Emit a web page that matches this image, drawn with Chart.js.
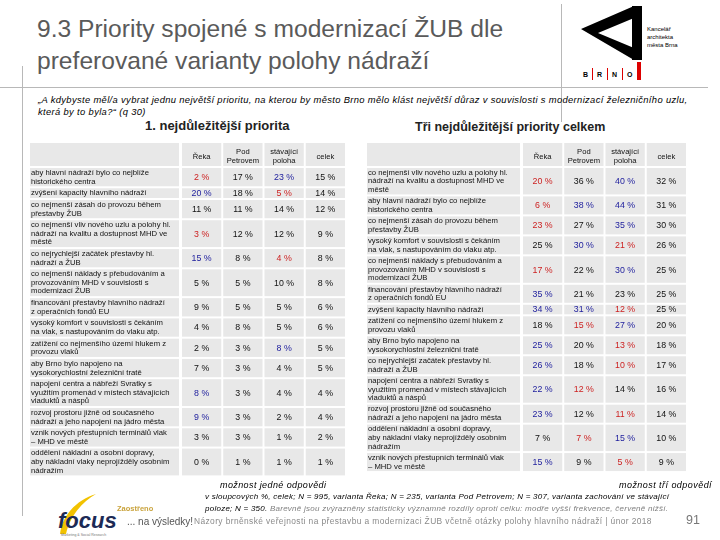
<!DOCTYPE html>
<html lang="cs">
<head>
    <meta charset="UTF-8">
    <title>9.3 Priority spojené s modernizací ŽUB</title>
    <script src="https://cdn.jsdelivr.net/npm/chart.js"></script>
    <style>
        body { margin: 0; background: #fff; font-family: "Liberation Sans", Arial, sans-serif; }
        #page { position: relative; width: 720px; height: 540px; overflow: hidden; }
        .abs { position: absolute; white-space: nowrap; }
        .line { position: absolute; background: #b8b8b8; }
        canvas { position: absolute; }
    </style>
</head>
<body>
<div id="page">
    <div class="line" style="left:0; top:87px; width:708px; height:1px;"></div>
    <div class="line" style="left:22px; top:66px; width:1px; height:450px;"></div>
    <div class="line" style="left:561px; top:4px; width:1px; height:118px;"></div>

    <div class="abs" style="left:37px; top:13px; font-size:24.6px; line-height:32px; color:#5a5a5a;">9.3 Priority spojené s modernizací ŽUB dle<br>preferované varianty polohy nádraží</div>

    <svg class="abs" style="left:576px; top:4px;" width="130" height="80">
        <polygon points="5,25 58,2 58,14 22,29 58,44 58,56" fill="#000"/>
        <rect x="56" y="2" width="10" height="54" fill="#000"/>
        <text x="71" y="27" font-size="6" font-family="Liberation Sans">Kancelář</text>
        <text x="71" y="35" font-size="6" font-family="Liberation Sans">architekta</text>
        <text x="71" y="43" font-size="6" font-family="Liberation Sans">města Brna</text>
        <g font-size="7" font-weight="bold" font-family="Liberation Sans">
            <text x="7" y="73">B</text>
            <rect x="16" y="64" width="1" height="12" fill="#d00"/>
            <text x="21" y="73">R</text>
            <rect x="31" y="64" width="1" height="12" fill="#d00"/>
            <text x="36" y="73">N</text>
            <rect x="46" y="64" width="1" height="12" fill="#d00"/>
            <text x="51" y="73">O</text>
            <rect x="61" y="58" width="4" height="18" fill="#d00"/>
        </g>
    </svg>

    <div class="abs" style="left:38px; top:94px; font-size:9.4px; letter-spacing:0.35px; line-height:12px; font-style:italic;">„A kdybyste měl/a vybrat jednu největší prioritu, na kterou by město Brno mělo klást největší důraz v souvislosti s modernizací železničního uzlu,<br>která by to byla?“ (q 30)</div>

    <div class="abs" style="left:145px; top:118px; font-size:13px; font-weight:bold; color:#222;">1. nejdůležitější priorita</div>
    <div class="abs" style="left:415px; top:120px; font-size:12.5px; font-weight:bold; color:#222;">Tři nejdůležitější priority celkem</div>

    <canvas id="firstTable" width="322" height="345" style="left:27px; top:140px;"></canvas>
    <canvas id="topThreeTable" width="326" height="345" style="left:364px; top:140px;"></canvas>

    <div class="abs" style="left:220px; top:480px; font-size:9px; letter-spacing:0.4px; font-style:italic;">možnost jedné odpovědi</div>
    <div class="abs" style="left:619px; top:480px; font-size:9px; letter-spacing:0.45px; font-style:italic;">možnost tří odpovědí</div>

    <div class="abs" style="left:205px; top:491px; font-size:8px; letter-spacing:0.25px; line-height:12px; font-style:italic;">v sloupcových %, celek; N = 995, varianta Řeka; N = 235, varianta Pod Petrovem; N = 307, varianta zachování ve stávající<br>poloze; N = 350. <span style="color:#808080;">Barevně jsou zvýrazněny statisticky významné rozdíly oproti celku: modře vyšší frekvence, červeně nižší.</span></div>

    <svg class="abs" style="left:52px; top:488px;" width="70" height="52">
        <path d="M8,46 C10,28 24,12 44,6 C30,14 18,28 14,46 Z" fill="#f2c200"/>
        <text x="6" y="40" font-size="22" font-weight="bold" font-style="italic" font-family="Liberation Sans" fill="#1c2a55">focus</text>
        <text x="9" y="48" font-size="3.5" fill="#777" font-family="Liberation Sans">Marketing &amp; Social Research</text>
    </svg>
    <div class="abs" style="left:117px; top:504px; font-size:7.5px; font-weight:bold; color:#c9a33c;">Zaostřeno</div>
    <div class="abs" style="left:127px; top:516px; font-size:10px; color:#555;">... na výsledky!</div>
    <div class="abs" style="left:194px; top:516px; font-size:8.4px; letter-spacing:0.4px; color:#8a8a8a;">Názory brněnské veřejnosti na přestavbu a modernizaci ŽUB včetně otázky polohy hlavního nádraží | únor 2018</div>
    <div class="abs" style="left:686px; top:513px; font-size:12.5px; color:#777;">91</div>
</div>

<script>
    // column headers, shared by both tables
    const columns = ['Řeka', ['Pod', 'Petrovem'], ['stávající', 'poloha'], 'celek'];

    // 1. nejdůležitější priorita
    const firstLabels = [
        ['aby hlavní nádraží bylo co nejblíže', 'historického centra'],
        ['zvýšení kapacity hlavního nádraží'],
        ['co nejmenší zásah do provozu během', 'přestavby ŽUB'],
        ['co nejmenší vliv nového uzlu a polohy hl.', 'nádraží na kvalitu a dostupnost MHD ve', 'městě'],
        ['co nejrychlejší začátek přestavby hl.', 'nádraží a ŽUB'],
        ['co nejmenší náklady s přebudováním a', 'provozováním MHD v souvislosti s', 'modernizací ŽUB'],
        ['financování přestavby hlavního nádraží', 'z operačních fondů EU'],
        ['vysoký komfort v souvislosti s čekáním', 'na vlak, s nastupováním do vlaku atp.'],
        ['zatížení co nejmenšího území hlukem z', 'provozu vlaků'],
        ['aby Brno bylo napojeno na', 'vysokorychlostní železniční tratě'],
        ['napojení centra a nábřeží Svratky s', 'využitím promenád v místech stávajících', 'viaduktů a náspů'],
        ['rozvoj prostoru jižně od současného', 'nádraží a jeho napojení na jádro města'],
        ['vznik nových přestupních terminálů vlak', '– MHD ve městě'],
        ['oddělení nákladní a osobní dopravy,', 'aby nákladní vlaky neprojížděly osobním', 'nádražím']
    ];
    const firstReka  = [2, 20, 11, 3, 15, 5, 9, 4, 2, 7, 8, 9, 3, 0];
    const firstPod   = [17, 18, 11, 12, 8, 5, 5, 8, 3, 3, 3, 3, 3, 1];
    const firstStav  = [23, 5, 14, 12, 4, 10, 5, 5, 8, 4, 4, 2, 1, 1];
    const firstCelek = [15, 14, 12, 9, 8, 8, 6, 6, 5, 5, 4, 4, 2, 1];
    // significance against celek: 1 = higher, -1 = lower, 0 = none
    const firstRekaSig = [-1, 1, 0, -1, 1, 0, 0, 0, 0, 0, 1, 1, 0, 0];
    const firstPodSig  = [0, 0, 0, 0, 0, 0, 0, 0, 0, 0, 0, 0, 0, 0];
    const firstStavSig = [1, -1, 0, 0, -1, 0, 0, 0, 1, 0, 0, 0, 0, 0];

    // Tři nejdůležitější priority celkem
    const topThreeLabels = [
        ['co nejmenší vliv nového uzlu a polohy hl.', 'nádraží na kvalitu a dostupnost MHD ve', 'městě'],
        ['aby hlavní nádraží bylo co nejblíže', 'historického centra'],
        ['co nejmenší zásah do provozu během', 'přestavby ŽUB'],
        ['vysoký komfort v souvislosti s čekáním', 'na vlak, s nastupováním do vlaku atp.'],
        ['co nejmenší náklady s přebudováním a', 'provozováním MHD v souvislosti s', 'modernizací ŽUB'],
        ['financování přestavby hlavního nádraží', 'z operačních fondů EU'],
        ['zvýšení kapacity hlavního nádraží'],
        ['zatížení co nejmenšího území hlukem z', 'provozu vlaků'],
        ['aby Brno bylo napojeno na', 'vysokorychlostní železniční tratě'],
        ['co nejrychlejší začátek přestavby hl.', 'nádraží a ŽUB'],
        ['napojení centra a nábřeží Svratky s', 'využitím promenád v místech stávajících', 'viaduktů a náspů'],
        ['rozvoj prostoru jižně od současného', 'nádraží a jeho napojení na jádro města'],
        ['oddělení nákladní a osobní dopravy,', 'aby nákladní vlaky neprojížděly osobním', 'nádražím'],
        ['vznik nových přestupních terminálů vlak', '– MHD ve městě']
    ];
    const topThreeReka  = [20, 6, 23, 25, 17, 35, 34, 18, 25, 26, 22, 23, 7, 15];
    const topThreePod   = [36, 38, 27, 30, 22, 21, 31, 15, 20, 18, 12, 12, 7, 9];
    const topThreeStav  = [40, 44, 35, 21, 30, 23, 12, 27, 13, 10, 14, 11, 15, 5];
    const topThreeCelek = [32, 31, 30, 26, 25, 25, 25, 20, 18, 17, 16, 14, 10, 9];
    const topThreeRekaSig = [-1, -1, -1, 0, -1, 1, 1, 0, 1, 1, 1, 1, 0, 1];
    const topThreePodSig  = [0, 1, 0, 1, 0, 0, 1, -1, 0, 0, -1, 0, -1, 0];
    const topThreeStavSig = [1, 1, 1, -1, 1, 0, -1, 1, -1, -1, 0, -1, 1, -1];

    const FONT = '"Liberation Sans", Arial, sans-serif';
    const CELL = '#e8e8e8';
    const sigColor = s => s > 0 ? '#1c1c9c' : (s < 0 ? '#cc1f1f' : '#111');

    // gray cells behind header and rows, then the percentages
    const tablePlugin = {
        id: 'table',
        beforeDraw(chart) {
            const { ctx, chartArea, scales: { x, y } } = chart;
            const spans = chart.options.plugins.table.spans;
            const labelLeft = y.left - 1, labelRight = chartArea.left - 1;
            ctx.save();
            ctx.fillStyle = CELL;
            const rows = [[x.top, x.bottom - 1]].concat(
                spans.map(s => [y.getPixelForValue(s[0]) + 1, y.getPixelForValue(s[1]) - 1]));
            rows.forEach(([top, bottom]) => {
                ctx.fillRect(labelLeft, top, labelRight - labelLeft - 1, bottom - top);
                for (let c = 0; c < columns.length; c++) {
                    const l = x.getPixelForValue(c) + 1, r = x.getPixelForValue(c + 1) - 1;
                    ctx.fillRect(l, top, r - l, bottom - top);
                }
            });
            ctx.restore();
        },
        afterDatasetsDraw(chart) {
            const { ctx } = chart;
            ctx.save();
            ctx.font = '8.8px ' + FONT;
            ctx.textAlign = 'center';
            ctx.textBaseline = 'middle';
            chart.data.datasets.forEach((ds, d) => {
                chart.getDatasetMeta(d).data.forEach((pt, i) => {
                    const raw = ds.data[i];
                    ctx.fillStyle = sigColor(raw.sig);
                    ctx.fillText(raw.v + ' %', pt.x, pt.y + 0.5);
                });
            });
            ctx.restore();
        }
    };

    function buildTable(id, labels, values, sigs, labelWidth) {
        const PAD = 0.37; // row padding, in text lines
        const spans = [];
        let top = 0;
        labels.forEach(l => {
            spans.push([top, top + l.length + PAD]);
            top += l.length + PAD;
        });
        const centers = spans.map(s => (s[0] + s[1]) / 2);

        const datasets = values.map((vals, c) => ({
            data: vals.map((v, i) => ({ x: c + 0.5, y: centers[i], v: v, sig: sigs[c][i] })),
            pointRadius: 0,
            showLine: false
        }));

        return new Chart(document.getElementById(id), {
            type: 'scatter',
            data: { datasets: datasets },
            options: {
                responsive: false,
                animation: false,
                layout: { padding: { left: 4, right: 3, top: 3, bottom: 2 } },
                plugins: {
                    legend: { display: false },
                    tooltip: { enabled: false },
                    table: { spans: spans }
                },
                scales: {
                    x: {
                        type: 'linear',
                        position: 'top',
                        min: 0,
                        max: columns.length,
                        grid: { display: false, drawTicks: false },
                        border: { display: false },
                        afterBuildTicks: s => { s.ticks = columns.map((c, i) => ({ value: i + 0.5 })); },
                        afterFit: s => { s.height = 24; },
                        ticks: {
                            autoSkip: false,
                            maxRotation: 0,
                            padding: 6,
                            crossAlign: 'center',
                            color: '#111',
                            font: { family: FONT, size: 7.6, lineHeight: 1.2 },
                            callback: (v, i) => columns[i]
                        }
                    },
                    y: {
                        type: 'linear',
                        reverse: true,
                        min: 0,
                        max: top,
                        grid: { display: false, drawTicks: false },
                        border: { display: false },
                        afterBuildTicks: s => { s.ticks = centers.map(v => ({ value: v })); },
                        afterFit: s => { s.width = labelWidth; },
                        ticks: {
                            autoSkip: false,
                            padding: 0,
                            crossAlign: 'far',
                            color: '#111',
                            font: { family: FONT, size: 7.7, lineHeight: 1.12 },
                            callback: (v, i) => labels[i]
                        }
                    }
                }
            },
            plugins: [tablePlugin]
        });
    }

    buildTable('firstTable', firstLabels,
        [firstReka, firstPod, firstStav, firstCelek],
        [firstRekaSig, firstPodSig, firstStavSig, firstPodSig.map(() => 0)], 150);

    buildTable('topThreeTable', topThreeLabels,
        [topThreeReka, topThreePod, topThreeStav, topThreeCelek],
        [topThreeRekaSig, topThreePodSig, topThreeStavSig, topThreePodSig.map(() => 0)], 154);
</script>
</body>
</html>
